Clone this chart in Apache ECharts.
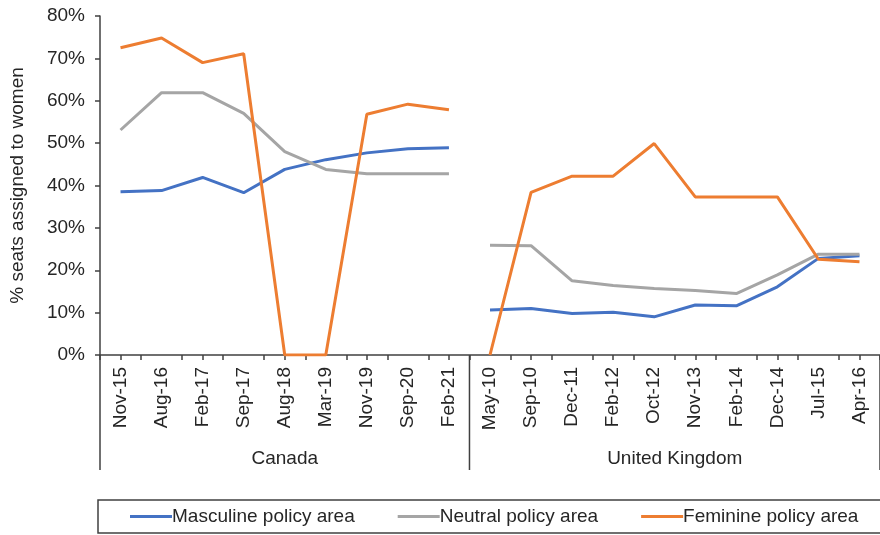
<!DOCTYPE html>
<html>
<head>
<meta charset="utf-8">
<script src="https://cdn.jsdelivr.net/npm/echarts@6/dist/echarts.min.js"></script>
<style>
  html, body { margin: 0; padding: 0; background: #fff; }
  #main { width: 880px; height: 535px; }
</style>
</head>
<body>
<div id="main"></div>
<script>
// categories per country
var canadaDates = ["Nov-15", "Aug-16", "Feb-17", "Sep-17", "Aug-18", "Mar-19", "Nov-19", "Sep-20", "Feb-21"];
var ukDates = ["May-10", "Sep-10", "Dec-11", "Feb-12", "Oct-12", "Nov-13", "Feb-14", "Dec-14", "Jul-15", "Apr-16"];
var groups = ["Canada", "United Kingdom"];

// % seats assigned to women
var canadaMasculine = [38.5, 38.8, 41.9, 38.3, 43.8, 46.1, 47.7, 48.7, 48.9];
var canadaNeutral = [53.1, 61.9, 61.9, 57.0, 48.0, 43.8, 42.8, 42.8, 42.8];
var canadaFeminine = [72.5, 74.8, 69.0, 71.1, 0, 0, 56.8, 59.2, 57.9];

var ukMasculine = [10.6, 11.0, 9.8, 10.1, 9.0, 11.8, 11.6, 16.1, 22.8, 23.4];
var ukNeutral = [25.9, 25.8, 17.5, 16.4, 15.7, 15.2, 14.5, 18.9, 23.8, 23.8];
var ukFeminine = [0, 38.4, 42.2, 42.2, 49.9, 37.3, 37.3, 37.3, 22.6, 22.0];

var yTicks = [0, 10, 20, 30, 40, 50, 60, 70, 80];

var seriesNames = ["Masculine policy area", "Neutral policy area", "Feminine policy area"];
var colors = ["#4472C4", "#A5A5A5", "#ED7D31"];

var allDates = canadaDates.concat(ukDates);
var textColor = "#262626";
var fontFamily = "'Liberation Sans', Arial, sans-serif";

function padCanada(arr) {
    return arr.concat(ukDates.map(function () { return null; }));
}
function padUk(arr) {
    return canadaDates.map(function () { return null; }).concat(arr);
}

var canadaSets = [canadaMasculine, canadaNeutral, canadaFeminine];
var ukSets = [ukMasculine, ukNeutral, ukFeminine];

var series = [];
seriesNames.forEach(function (name, i) {
    series.push({
        name: name, type: "line", data: padCanada(canadaSets[i]),
        showSymbol: false, symbol: "none", connectNulls: false,
        lineStyle: { width: 3, color: colors[i] }, itemStyle: { color: colors[i] },
        z: 3 + i
    });
    series.push({
        name: name, type: "line", data: padUk(ukSets[i]),
        showSymbol: false, symbol: "none", connectNulls: false,
        lineStyle: { width: 3, color: colors[i] }, itemStyle: { color: colors[i] },
        z: 3 + i
    });
});

var chart = echarts.init(document.getElementById("main"));

var option = {
    animation: false,
    textStyle: { fontFamily: fontFamily, color: textColor },
    grid: { left: 100, right: 0, top: 16, bottom: 180 },
    legend: {
        data: seriesNames,
        left: 98,
        top: 500,
        width: 900,
        icon: "rect",
        itemWidth: 42,
        itemHeight: 3,
        itemGap: 43,
        padding: [7, 40, 7, 32],
        borderColor: "#404040",
        borderWidth: 1.5,
        textStyle: { fontSize: 19, color: textColor, fontFamily: fontFamily, padding: [0, 0, 0, -5] }
    },
    xAxis: [
        {
            type: "category",
            data: allDates,
            boundaryGap: true,
            axisLine: { lineStyle: { color: "#404040", width: 1.5 } },
            axisTick: { show: true, alignWithLabel: false, length: 5, inside: false, lineStyle: { color: "#404040", width: 1.5 } },
            axisLabel: { rotate: 90, margin: 12, fontSize: 19, color: textColor, interval: 0 },
            splitLine: { show: false }
        },
        {
            type: "category",
            data: allDates,
            position: "bottom",
            boundaryGap: true,
            axisLine: { show: false },
            axisTick: { show: true, alignWithLabel: true, length: 5, lineStyle: { color: "#404040", width: 1.5 } },
            axisLabel: { show: false },
            splitLine: { show: false }
        }
    ],
    yAxis: {
        type: "value",
        min: yTicks[0],
        max: yTicks[yTicks.length - 1],
        interval: 10,
        name: "% seats assigned to women",
        nameLocation: "middle",
        nameGap: 73,
        nameTextStyle: { fontSize: 19, color: textColor },
        axisLine: { show: true, lineStyle: { color: "#404040", width: 1.5 } },
        axisTick: { show: true, length: 5, lineStyle: { color: "#404040", width: 1.5 } },
        axisLabel: { formatter: "{value}%", fontSize: 19, color: textColor, margin: 15 },
        splitLine: { show: false }
    },
    series: series
};

chart.setOption(option);

// group separators and group labels under the category axis
function addGroupGraphics() {
    var half = (chart.convertToPixel({ xAxisIndex: 0 }, allDates[1]) - chart.convertToPixel({ xAxisIndex: 0 }, allDates[0])) / 2;
    var yAxisPx = chart.convertToPixel({ yAxisIndex: 0 }, 0);
    var bottom = yAxisPx + 115;
    var firstCa = chart.convertToPixel({ xAxisIndex: 0 }, canadaDates[0]) - half;
    var firstUk = chart.convertToPixel({ xAxisIndex: 0 }, ukDates[0]) - half;
    var lastUk = chart.convertToPixel({ xAxisIndex: 0 }, ukDates[ukDates.length - 1]) + half;
    var edges = [firstCa, firstUk, lastUk];
    var els = [];
    edges.forEach(function (x) {
        els.push({
            type: "line",
            shape: { x1: x, y1: yAxisPx, x2: x, y2: bottom },
            style: { stroke: "#404040", lineWidth: 1.5 }
        });
    });
    var spans = [[firstCa, firstUk], [firstUk, lastUk]];
    groups.forEach(function (g, i) {
        els.push({
            type: "text",
            x: (spans[i][0] + spans[i][1]) / 2,
            y: yAxisPx + 104,
            style: {
                text: g, fontSize: 19, fill: textColor, fontFamily: fontFamily,
                textAlign: "center", textVerticalAlign: "middle"
            }
        });
    });
    chart.setOption({ graphic: els });
}
addGroupGraphics();
</script>
</body>
</html>
